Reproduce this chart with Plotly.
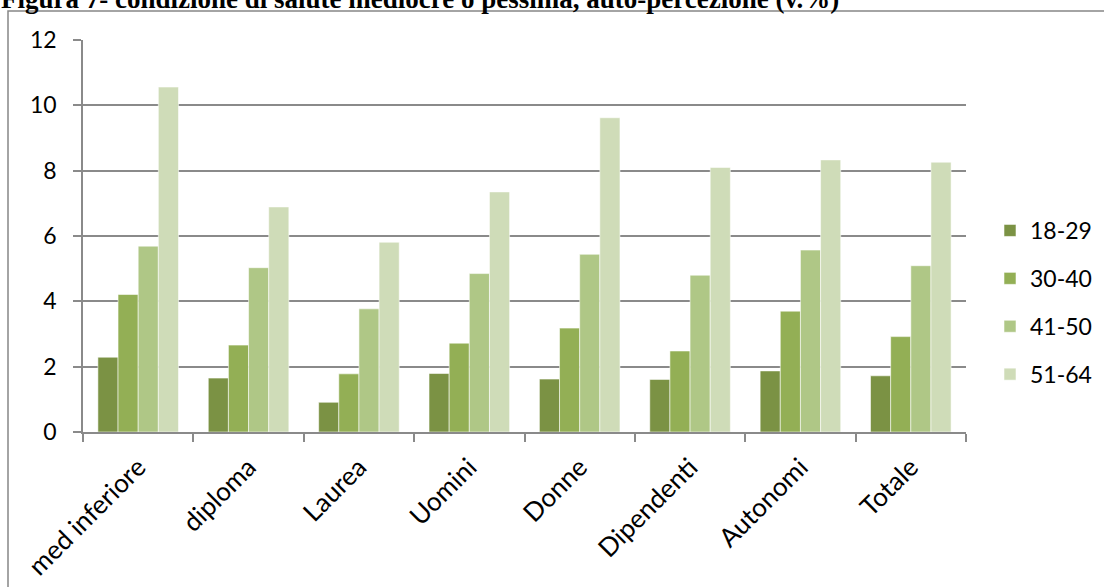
import plotly.graph_objects as go

# Categories and age-band series (percent values)
categories = ["med inferiore", "diploma", "Laurea", "Uomini", "Donne",
              "Dipendenti", "Autonomi", "Totale"]
age_18_29 = [2.29, 1.65, 0.91, 1.79, 1.62, 1.61, 1.87, 1.72]
age_30_40 = [4.21, 2.66, 1.78, 2.72, 3.18, 2.48, 3.70, 2.92]
age_41_50 = [5.69, 5.03, 3.77, 4.85, 5.44, 4.80, 5.57, 5.09]
age_51_64 = [10.56, 6.89, 5.81, 7.35, 9.62, 8.10, 8.33, 8.26]
series_names = ["18-29", "30-40", "41-50", "51-64"]
y_ticks = [0, 2, 4, 6, 8, 10, 12]

colors = ["#7b9244", "#93af55", "#afc786", "#cfdcb8"]
series = [age_18_29, age_30_40, age_41_50, age_51_64]

W, H = 1104, 587
L, R, T, B = 83, 138, 40, 155
pw, ph = W - L - R, H - T - B

font_family = "Lato, 'Open Sans', sans-serif"

fig = go.Figure()
for name, vals, col in zip(series_names, series, colors):
    fig.add_trace(go.Bar(
        x=categories, y=vals, name=name, legendgroup=name,
        marker=dict(color=col, line=dict(color="rgba(255,255,255,0.55)", width=1)),
    ))


def px_x(p):
    return (p - L) / pw


def px_y(p):
    return (H - B - p) / ph


fig.update_layout(
    width=W, height=H, autosize=False,
    margin=dict(l=L, r=R, t=T, b=B, pad=0, autoexpand=False),
    paper_bgcolor="white", plot_bgcolor="white",
    barmode="group", bargap=0.27, bargroupgap=0,
    font=dict(family=font_family, size=23, color="#000000"),
    showlegend=True,
    legend=dict(
        x=px_x(990), y=px_y(209), xanchor="left", yanchor="top",
        traceorder="grouped", tracegroupgap=15,
        font=dict(size=23), itemwidth=30,
        bgcolor="rgba(0,0,0,0)",
    ),
    shapes=[
        # outer chart frame (runs off the right and bottom edges)
        dict(type="rect", xref="paper", yref="paper",
             x0=px_x(8), x1=px_x(1120), y0=px_y(620), y1=px_y(11),
             line=dict(color="#868686", width=1.5), fillcolor="rgba(0,0,0,0)",
             layer="below"),
    ],
    annotations=[
        dict(text="<b>Figura 7- condizione di salute mediocre o pessima, auto-percezione (v.%)</b>",
             xref="paper", yref="paper", x=px_x(-1), y=px_y(16),
             xanchor="left", yanchor="bottom", showarrow=False,
             font=dict(family="'Liberation Serif', 'DejaVu Serif', serif", size=27, color="#000000")),
    ],
)

fig.update_yaxes(
    range=[0, 12], tickvals=y_ticks, ticktext=[str(v) for v in y_ticks],
    showgrid=True, gridcolor="#8a8a8a", gridwidth=1.5,
    showline=True, linecolor="#8a8a8a", linewidth=1.5,
    ticks="outside", ticklen=8, tickcolor="#8a8a8a", tickwidth=1.5,
    ticklabelstandoff=12, zeroline=False, fixedrange=True,
)
fig.update_xaxes(
    showgrid=False, showline=True, linecolor="#8a8a8a", linewidth=1.5,
    ticks="outside", tickson="boundaries", ticklen=8, tickcolor="#8a8a8a", tickwidth=1.5,
    tickangle=-45, ticklabelstandoff=8, tickfont=dict(size=26), fixedrange=True,
)

fig.write_html("out.html")
